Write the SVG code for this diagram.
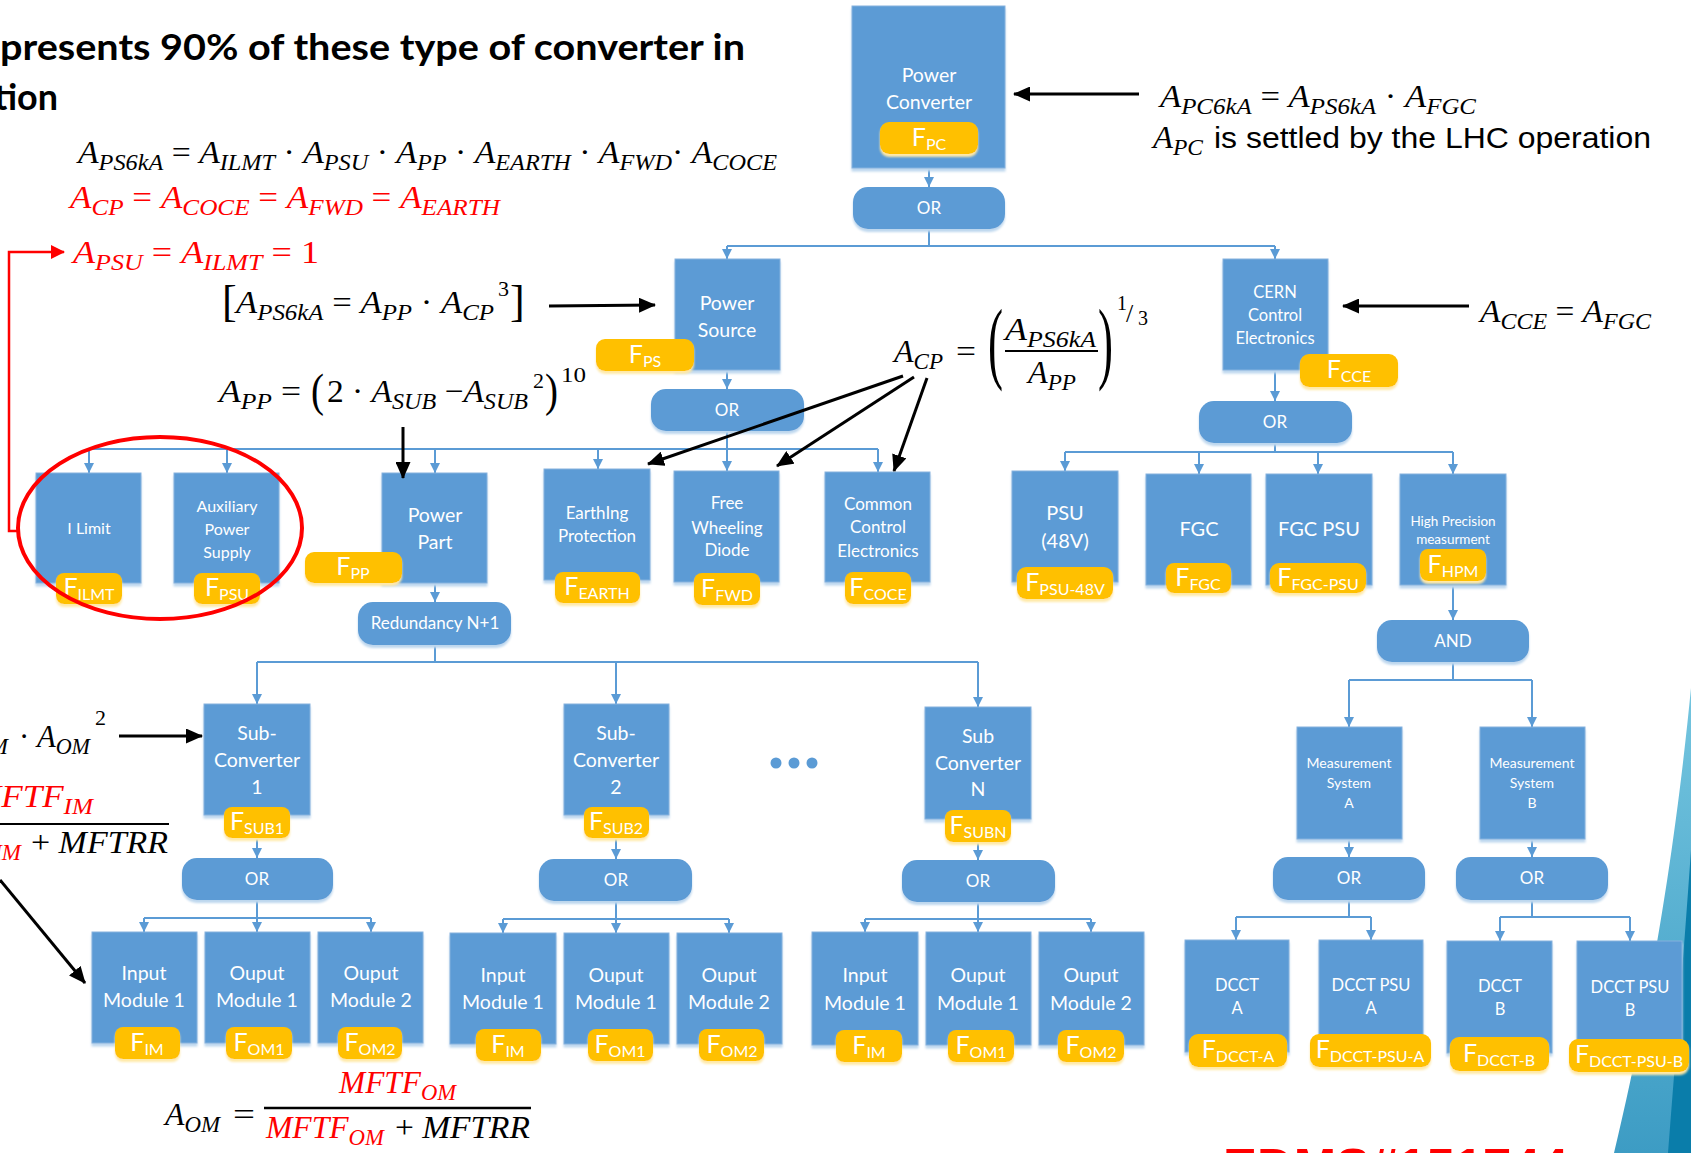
<svg xmlns="http://www.w3.org/2000/svg" width="1691" height="1153" viewBox="0 0 1691 1153">
<defs>
<style>
.box{fill:#5B9BD5;stroke:#86B2DE;stroke-width:1;filter:url(#sh)}
.gate{fill:#5B9BD5;filter:url(#sh)}
.pill{fill:#FFC000;filter:url(#shy)}
.lbl{font-family:Lato,"Liberation Sans",sans-serif;fill:#fff;text-anchor:middle}
.f{font-family:Lato,"Liberation Sans",sans-serif;fill:#fff;text-anchor:middle;font-size:25px}
.fs{font-size:16px}
.con{stroke:#5B9BD5;stroke-width:2;fill:none;marker-end:url(#ab)}
.ln{stroke:#5B9BD5;stroke-width:2;fill:none}
.blk{stroke:#000;stroke-width:3;fill:none;marker-end:url(#ak)}
.m{font-family:"Liberation Serif",serif;font-style:italic;font-size:32px}
.s{font-size:23px}
.u{font-style:normal}
.up{font-family:"Liberation Serif",serif;font-style:normal}
.red{fill:#FF0000}
</style>
<filter id="sh" x="-10%" y="-10%" width="120%" height="130%"><feDropShadow dx="0" dy="3" stdDeviation="1" flood-color="#BDD7EE" flood-opacity="1"/></filter>
<filter id="shy" x="-10%" y="-10%" width="120%" height="140%"><feDropShadow dx="0" dy="3" stdDeviation="1" flood-color="#FFE9A8" flood-opacity="1"/></filter>
<marker id="ab" markerUnits="userSpaceOnUse" markerWidth="10" markerHeight="10" viewBox="0 0 10 10" refX="10" refY="5" orient="auto"><path d="M0,0 L10,5 L0,10 z" fill="#5B9BD5"/></marker>
<marker id="ak" markerUnits="userSpaceOnUse" markerWidth="17" markerHeight="15" viewBox="0 0 17 15" refX="16" refY="7.5" orient="auto"><path d="M0,0 L17,7.5 L0,15 z" fill="#000"/></marker>
<marker id="ar" markerUnits="userSpaceOnUse" markerWidth="14" markerHeight="14" viewBox="0 0 14 14" refX="13" refY="7" orient="auto"><path d="M0,0 L14,7 L0,14 z" fill="#FF0000"/></marker>
<linearGradient id="dg" x1="0" y1="0" x2="0" y2="1"><stop offset="0" stop-color="#74C5DF"/><stop offset="1" stop-color="#3D9CC4"/></linearGradient>
</defs>

<g id="decor">
<path d="M1691,688 C1680,800 1660,960 1614,1153 L1691,1153 Z" fill="url(#dg)"/>
<path d="M1691,850 C1684,950 1676,1050 1668,1153 L1691,1153 Z" fill="#0A7DAA"/>
</g>

<g id="connectors">
<line class="con" x1="929" y1="168" x2="929" y2="187"/>
<line class="ln" x1="929" y1="229" x2="929" y2="246"/>
<line class="ln" x1="727" y1="246" x2="1275" y2="246"/>
<line class="con" x1="727" y1="246" x2="727" y2="259"/>
<line class="con" x1="1275" y1="246" x2="1275" y2="259"/>
<line class="con" x1="727" y1="370" x2="727" y2="389"/>
<line class="ln" x1="727" y1="431" x2="727" y2="449"/>
<line class="ln" x1="89" y1="449" x2="878" y2="449"/>
<line class="con" x1="89" y1="449" x2="89" y2="473"/>
<line class="con" x1="227" y1="449" x2="227" y2="473"/>
<line class="con" x1="435" y1="449" x2="435" y2="473"/>
<line class="con" x1="598" y1="449" x2="598" y2="469"/>
<line class="con" x1="727" y1="449" x2="727" y2="471"/>
<line class="con" x1="878" y1="449" x2="878" y2="472"/>
<line class="con" x1="435" y1="583" x2="435" y2="602"/>
<line class="ln" x1="435" y1="645" x2="435" y2="662"/>
<line class="ln" x1="257" y1="662" x2="978" y2="662"/>
<line class="con" x1="257" y1="662" x2="257" y2="704"/>
<line class="con" x1="616" y1="662" x2="616" y2="704"/>
<line class="con" x1="978" y1="662" x2="978" y2="707"/>
<line class="con" x1="257" y1="838" x2="257" y2="858"/>
<line class="con" x1="616" y1="838" x2="616" y2="859"/>
<line class="con" x1="978" y1="842" x2="978" y2="860"/>
<line class="ln" x1="257" y1="900" x2="257" y2="918"/>
<line class="ln" x1="144" y1="918" x2="371" y2="918"/>
<line class="con" x1="144" y1="918" x2="144" y2="932"/>
<line class="con" x1="257" y1="918" x2="257" y2="932"/>
<line class="con" x1="371" y1="918" x2="371" y2="932"/>
<line class="ln" x1="616" y1="901" x2="616" y2="919"/>
<line class="ln" x1="503" y1="919" x2="729" y2="919"/>
<line class="con" x1="503" y1="919" x2="503" y2="933"/>
<line class="con" x1="616" y1="919" x2="616" y2="933"/>
<line class="con" x1="729" y1="919" x2="729" y2="933"/>
<line class="ln" x1="978" y1="902" x2="978" y2="919"/>
<line class="ln" x1="865" y1="919" x2="1091" y2="919"/>
<line class="con" x1="865" y1="919" x2="865" y2="932"/>
<line class="con" x1="978" y1="919" x2="978" y2="932"/>
<line class="con" x1="1091" y1="919" x2="1091" y2="932"/>
<line class="con" x1="1275" y1="370" x2="1275" y2="401"/>
<line class="ln" x1="1275" y1="443" x2="1275" y2="452"/>
<line class="ln" x1="1065" y1="452" x2="1453" y2="452"/>
<line class="con" x1="1065" y1="452" x2="1065" y2="471"/>
<line class="con" x1="1199" y1="452" x2="1199" y2="474"/>
<line class="con" x1="1318" y1="452" x2="1318" y2="474"/>
<line class="con" x1="1453" y1="452" x2="1453" y2="474"/>
<line class="con" x1="1453" y1="585" x2="1453" y2="620"/>
<line class="ln" x1="1453" y1="662" x2="1453" y2="680"/>
<line class="ln" x1="1349" y1="680" x2="1532" y2="680"/>
<line class="con" x1="1349" y1="680" x2="1349" y2="727"/>
<line class="con" x1="1532" y1="680" x2="1532" y2="727"/>
<line class="con" x1="1349" y1="839" x2="1349" y2="857"/>
<line class="con" x1="1532" y1="839" x2="1532" y2="857"/>
<line class="ln" x1="1349" y1="900" x2="1349" y2="917"/>
<line class="ln" x1="1236" y1="917" x2="1371" y2="917"/>
<line class="con" x1="1236" y1="917" x2="1236" y2="940"/>
<line class="con" x1="1371" y1="917" x2="1371" y2="940"/>
<line class="ln" x1="1532" y1="900" x2="1532" y2="917"/>
<line class="ln" x1="1500" y1="917" x2="1630" y2="917"/>
<line class="con" x1="1500" y1="917" x2="1500" y2="941"/>
<line class="con" x1="1630" y1="917" x2="1630" y2="941"/>
</g>

<g id="n-power-converter">
<rect class="box" x="852" y="6" width="153" height="162"/>
<text class="lbl" font-size="19.5"><tspan x="929" y="82">Power</tspan><tspan x="929" y="109">Converter</tspan></text>
<rect class="pill" x="880" y="122" width="98" height="32" rx="9"/>
<text class="f" x="929" y="146">F<tspan class="fs" dy="4">PC</tspan></text>
</g>
<g id="n-or-pc"><rect class="gate" x="853" y="187" width="152" height="42" rx="15"/><text class="lbl" font-size="17" x="929" y="214">OR</text></g>

<g id="n-power-source">
<rect class="box" x="675" y="259" width="105" height="111"/>
<text class="lbl" font-size="19.5"><tspan x="727" y="310">Power</tspan><tspan x="727" y="337">Source</tspan></text>
<rect class="pill" x="596" y="339" width="98" height="32" rx="9"/>
<text class="f" x="645" y="363">F<tspan class="fs" dy="4">PS</tspan></text>
</g>
<g id="n-or-ps"><rect class="gate" x="651" y="389" width="153" height="42" rx="15"/><text class="lbl" font-size="17" x="727" y="416">OR</text></g>

<g id="n-cern">
<rect class="box" x="1223" y="259" width="105" height="111"/>
<text class="lbl" font-size="16.5"><tspan x="1275" y="298">CERN</tspan><tspan x="1275" y="321">Control</tspan><tspan x="1275" y="344">Electronics</tspan></text>
<rect class="pill" x="1300" y="354" width="98" height="33" rx="9"/>
<text class="f" x="1349" y="378">F<tspan class="fs" dy="4">CCE</tspan></text>
</g>
<g id="n-or-cern"><rect class="gate" x="1199" y="401" width="153" height="42" rx="15"/><text class="lbl" font-size="17" x="1275" y="428">OR</text></g>

<g id="n-ilimit">
<rect class="box" x="36" y="473" width="105" height="110"/>
<text class="lbl" font-size="16" x="89" y="534">I Limit</text>
<rect class="pill" x="56" y="573" width="66" height="31" rx="8"/>
<text class="f" x="89" y="596">F<tspan class="fs" dy="4">ILMT</tspan></text>
</g>
<g id="n-aux">
<rect class="box" x="174" y="473" width="105" height="110"/>
<text class="lbl" font-size="16"><tspan x="227" y="512">Auxiliary</tspan><tspan x="227" y="535">Power</tspan><tspan x="227" y="558">Supply</tspan></text>
<rect class="pill" x="194" y="573" width="66" height="31" rx="8"/>
<text class="f" x="227" y="596">F<tspan class="fs" dy="4">PSU</tspan></text>
</g>
<g id="n-power-part">
<rect class="box" x="382" y="473" width="105" height="110"/>
<text class="lbl" font-size="19.5"><tspan x="435" y="522">Power</tspan><tspan x="435" y="549">Part</tspan></text>
<rect class="pill" x="305" y="552" width="97" height="31" rx="9"/>
<text class="f" x="353" y="575">F<tspan class="fs" dy="4">PP</tspan></text>
</g>
<g id="n-earthing">
<rect class="box" x="544" y="469" width="106" height="111"/>
<text class="lbl" font-size="17"><tspan x="597" y="519">EarthIng</tspan><tspan x="597" y="542">Protection</tspan></text>
<rect class="pill" x="555" y="572" width="85" height="31" rx="8"/>
<text class="f" x="597" y="595">F<tspan class="fs" dy="4">EARTH</tspan></text>
</g>
<g id="n-fwd">
<rect class="box" x="674" y="471" width="105" height="111"/>
<text class="lbl" font-size="17"><tspan x="727" y="509">Free</tspan><tspan x="727" y="534">Wheeling</tspan><tspan x="727" y="556">Diode</tspan></text>
<rect class="pill" x="694" y="573" width="66" height="32" rx="8"/>
<text class="f" x="727" y="597">F<tspan class="fs" dy="4">FWD</tspan></text>
</g>
<g id="n-coce">
<rect class="box" x="825" y="472" width="105" height="110"/>
<text class="lbl" font-size="17"><tspan x="878" y="510">Common</tspan><tspan x="878" y="533">Control</tspan><tspan x="878" y="557">Electronics</tspan></text>
<rect class="pill" x="845" y="572" width="66" height="32" rx="8"/>
<text class="f" x="878" y="596">F<tspan class="fs" dy="4">COCE</tspan></text>
</g>
<g id="n-redundancy"><rect class="gate" x="358" y="602" width="153" height="43" rx="15"/><text class="lbl" font-size="17" x="435" y="629">Redundancy N+1</text></g>

<g id="n-sub1">
<rect class="box" x="204" y="704" width="106" height="111"/>
<text class="lbl" font-size="19.5"><tspan x="257" y="740">Sub-</tspan><tspan x="257" y="767">Converter</tspan><tspan x="257" y="794">1</tspan></text>
<rect class="pill" x="224" y="807" width="66" height="31" rx="8"/>
<text class="f" x="257" y="830">F<tspan class="fs" dy="4">SUB1</tspan></text>
</g>
<g id="n-sub2">
<rect class="box" x="564" y="704" width="105" height="111"/>
<text class="lbl" font-size="19.5"><tspan x="616" y="740">Sub-</tspan><tspan x="616" y="767">Converter</tspan><tspan x="616" y="794">2</tspan></text>
<rect class="pill" x="584" y="807" width="65" height="31" rx="8"/>
<text class="f" x="616" y="830">F<tspan class="fs" dy="4">SUB2</tspan></text>
</g>
<g id="n-subn">
<rect class="box" x="925" y="707" width="106" height="112"/>
<text class="lbl" font-size="19.5"><tspan x="978" y="743">Sub</tspan><tspan x="978" y="770">Converter</tspan><tspan x="978" y="796">N</tspan></text>
<rect class="pill" x="945" y="810" width="66" height="32" rx="8"/>
<text class="f" x="978" y="834">F<tspan class="fs" dy="4">SUBN</tspan></text>
</g>
<g id="n-dots" fill="#5B9BD5"><circle cx="776" cy="763" r="5.5"/><circle cx="794" cy="763" r="5.5"/><circle cx="812" cy="763" r="5.5"/></g>

<g id="n-or-sub1"><rect class="gate" x="182" y="858" width="151" height="42" rx="15"/><text class="lbl" font-size="17" x="257" y="885">OR</text></g>
<g id="n-or-sub2"><rect class="gate" x="539" y="859" width="153" height="42" rx="15"/><text class="lbl" font-size="17" x="616" y="886">OR</text></g>
<g id="n-or-subn"><rect class="gate" x="902" y="860" width="153" height="42" rx="15"/><text class="lbl" font-size="17" x="978" y="887">OR</text></g>

<g id="n-g1-im">
<rect class="box" x="92" y="932" width="105" height="111"/>
<text class="lbl" font-size="19.5"><tspan x="144" y="980">Input</tspan><tspan x="144" y="1007">Module 1</tspan></text>
<rect class="pill" x="115" y="1027" width="65" height="32" rx="8"/>
<text class="f" x="147" y="1051">F<tspan class="fs" dy="4">IM</tspan></text>
</g>
<g id="n-g1-om1">
<rect class="box" x="205" y="932" width="105" height="111"/>
<text class="lbl" font-size="19.5"><tspan x="257" y="980">Ouput</tspan><tspan x="257" y="1007">Module 1</tspan></text>
<rect class="pill" x="226" y="1027" width="66" height="32" rx="8"/>
<text class="f" x="259" y="1051">F<tspan class="fs" dy="4">OM1</tspan></text>
</g>
<g id="n-g1-om2">
<rect class="box" x="318" y="932" width="105" height="111"/>
<text class="lbl" font-size="19.5"><tspan x="371" y="980">Ouput</tspan><tspan x="371" y="1007">Module 2</tspan></text>
<rect class="pill" x="338" y="1027" width="64" height="32" rx="8"/>
<text class="f" x="370" y="1051">F<tspan class="fs" dy="4">OM2</tspan></text>
</g>
<g id="n-g2-im">
<rect class="box" x="450" y="933" width="106" height="111"/>
<text class="lbl" font-size="19.5"><tspan x="503" y="982">Input</tspan><tspan x="503" y="1009">Module 1</tspan></text>
<rect class="pill" x="476" y="1029" width="65" height="32" rx="8"/>
<text class="f" x="508" y="1053">F<tspan class="fs" dy="4">IM</tspan></text>
</g>
<g id="n-g2-om1">
<rect class="box" x="564" y="933" width="105" height="111"/>
<text class="lbl" font-size="19.5"><tspan x="616" y="982">Ouput</tspan><tspan x="616" y="1009">Module 1</tspan></text>
<rect class="pill" x="588" y="1029" width="65" height="32" rx="8"/>
<text class="f" x="620" y="1053">F<tspan class="fs" dy="4">OM1</tspan></text>
</g>
<g id="n-g2-om2">
<rect class="box" x="677" y="933" width="105" height="111"/>
<text class="lbl" font-size="19.5"><tspan x="729" y="982">Ouput</tspan><tspan x="729" y="1009">Module 2</tspan></text>
<rect class="pill" x="699" y="1029" width="65" height="32" rx="8"/>
<text class="f" x="732" y="1053">F<tspan class="fs" dy="4">OM2</tspan></text>
</g>
<g id="n-gn-im">
<rect class="box" x="812" y="932" width="106" height="113"/>
<text class="lbl" font-size="19.5"><tspan x="865" y="982">Input</tspan><tspan x="865" y="1010">Module 1</tspan></text>
<rect class="pill" x="836" y="1030" width="66" height="32" rx="8"/>
<text class="f" x="869" y="1054">F<tspan class="fs" dy="4">IM</tspan></text>
</g>
<g id="n-gn-om1">
<rect class="box" x="926" y="932" width="105" height="113"/>
<text class="lbl" font-size="19.5"><tspan x="978" y="982">Ouput</tspan><tspan x="978" y="1010">Module 1</tspan></text>
<rect class="pill" x="948" y="1030" width="66" height="32" rx="8"/>
<text class="f" x="981" y="1054">F<tspan class="fs" dy="4">OM1</tspan></text>
</g>
<g id="n-gn-om2">
<rect class="box" x="1039" y="932" width="105" height="113"/>
<text class="lbl" font-size="19.5"><tspan x="1091" y="982">Ouput</tspan><tspan x="1091" y="1010">Module 2</tspan></text>
<rect class="pill" x="1058" y="1030" width="66" height="32" rx="8"/>
<text class="f" x="1091" y="1054">F<tspan class="fs" dy="4">OM2</tspan></text>
</g>

<g id="n-psu48">
<rect class="box" x="1012" y="471" width="106" height="111"/>
<text class="lbl" font-size="20"><tspan x="1065" y="520">PSU</tspan><tspan x="1065" y="548">(48V)</tspan></text>
<rect class="pill" x="1017" y="567" width="96" height="32" rx="9"/>
<text class="f" x="1065" y="591">F<tspan class="fs" dy="4">PSU-48V</tspan></text>
</g>
<g id="n-fgc">
<rect class="box" x="1146" y="474" width="105" height="111"/>
<text class="lbl" font-size="20" x="1199" y="536">FGC</text>
<rect class="pill" x="1166" y="563" width="65" height="30" rx="8"/>
<text class="f" x="1198" y="586">F<tspan class="fs" dy="4">FGC</tspan></text>
</g>
<g id="n-fgcpsu">
<rect class="box" x="1266" y="474" width="106" height="111"/>
<text class="lbl" font-size="20" x="1319" y="536">FGC PSU</text>
<rect class="pill" x="1270" y="563" width="96" height="30" rx="9"/>
<text class="f" x="1318" y="586">F<tspan class="fs" dy="4">FGC-PSU</tspan></text>
</g>
<g id="n-hpm">
<rect class="box" x="1400" y="474" width="106" height="111"/>
<text class="lbl" font-size="13.5"><tspan x="1453" y="526">High Precision</tspan><tspan x="1453" y="544">measurment</tspan></text>
<rect class="pill" x="1420" y="549" width="66" height="32" rx="8"/>
<text class="f" x="1453" y="573">F<tspan class="fs" dy="4">HPM</tspan></text>
</g>
<g id="n-and"><rect class="gate" x="1377" y="620" width="152" height="42" rx="15"/><text class="lbl" font-size="17" x="1453" y="647">AND</text></g>

<g id="n-msa">
<rect class="box" x="1297" y="727" width="105" height="112"/>
<text class="lbl" font-size="14"><tspan x="1349" y="768">Measurement</tspan><tspan x="1349" y="788">System</tspan><tspan x="1349" y="808">A</tspan></text>
</g>
<g id="n-msb">
<rect class="box" x="1480" y="727" width="105" height="112"/>
<text class="lbl" font-size="14"><tspan x="1532" y="768">Measurement</tspan><tspan x="1532" y="788">System</tspan><tspan x="1532" y="808">B</tspan></text>
</g>
<g id="n-or-msa"><rect class="gate" x="1273" y="857" width="152" height="43" rx="15"/><text class="lbl" font-size="17" x="1349" y="884">OR</text></g>
<g id="n-or-msb"><rect class="gate" x="1456" y="857" width="152" height="43" rx="15"/><text class="lbl" font-size="17" x="1532" y="884">OR</text></g>

<g id="n-dccta">
<rect class="box" x="1185" y="940" width="104" height="112"/>
<text class="lbl" font-size="16.5"><tspan x="1237" y="991">DCCT</tspan><tspan x="1237" y="1014">A</tspan></text>
<rect class="pill" x="1189" y="1034" width="98" height="33" rx="9"/>
<text class="f" x="1238" y="1058">F<tspan class="fs" dy="4">DCCT-A</tspan></text>
</g>
<g id="n-dcctpsua">
<rect class="box" x="1319" y="940" width="104" height="112"/>
<text class="lbl" font-size="16.5"><tspan x="1371" y="991">DCCT PSU</tspan><tspan x="1371" y="1014">A</tspan></text>
<rect class="pill" x="1310" y="1034" width="121" height="33" rx="9"/>
<text class="f" x="1370" y="1058">F<tspan class="fs" dy="4">DCCT-PSU-A</tspan></text>
</g>
<g id="n-dcctb">
<rect class="box" x="1447" y="941" width="105" height="112"/>
<text class="lbl" font-size="16.5"><tspan x="1500" y="992">DCCT</tspan><tspan x="1500" y="1015">B</tspan></text>
<rect class="pill" x="1450" y="1037" width="99" height="34" rx="9"/>
<text class="f" x="1499" y="1062">F<tspan class="fs" dy="4">DCCT-B</tspan></text>
</g>
<g id="n-dcctpsub">
<rect class="box" x="1577" y="941" width="105" height="112"/>
<text class="lbl" font-size="16.5"><tspan x="1630" y="993">DCCT PSU</tspan><tspan x="1630" y="1016">B</tspan></text>
<rect class="pill" x="1569" y="1039" width="120" height="33" rx="9"/>
<text class="f" x="1629" y="1063">F<tspan class="fs" dy="4">DCCT-PSU-B</tspan></text>
</g>

<g id="annotations">
<text x="0" y="60" font-family="Lato, 'Liberation Sans', sans-serif" font-weight="700" font-size="36" textLength="745" lengthAdjust="spacingAndGlyphs">presents 90% of these type of converter in</text>
<text x="-6" y="110" font-family="Lato, 'Liberation Sans', sans-serif" font-weight="700" font-size="36" textLength="64" lengthAdjust="spacingAndGlyphs">tion</text>

<text class="m" x="78" y="163" textLength="699" lengthAdjust="spacingAndGlyphs">A<tspan class="s" dy="7">PS6kA</tspan><tspan class="u" dy="-7"> = </tspan>A<tspan class="s" dy="7">ILMT</tspan><tspan class="u" dy="-7"> · </tspan>A<tspan class="s" dy="7">PSU</tspan><tspan class="u" dy="-7"> · </tspan>A<tspan class="s" dy="7">PP</tspan><tspan class="u" dy="-7"> · </tspan>A<tspan class="s" dy="7">EARTH</tspan><tspan class="u" dy="-7"> · </tspan>A<tspan class="s" dy="7">FWD</tspan><tspan class="u" dy="-7">· </tspan>A<tspan class="s" dy="7">COCE</tspan></text>

<text class="m red" x="70" y="208" textLength="430" lengthAdjust="spacingAndGlyphs">A<tspan class="s" dy="7">CP</tspan><tspan class="u" dy="-7"> = </tspan>A<tspan class="s" dy="7">COCE</tspan><tspan class="u" dy="-7"> = </tspan>A<tspan class="s" dy="7">FWD</tspan><tspan class="u" dy="-7"> = </tspan>A<tspan class="s" dy="7">EARTH</tspan></text>

<text class="m red" x="73" y="263" textLength="246" lengthAdjust="spacingAndGlyphs">A<tspan class="s" dy="7">PSU</tspan><tspan class="u" dy="-7"> = </tspan>A<tspan class="s" dy="7">ILMT</tspan><tspan class="u" dy="-7"> = 1</tspan></text>
<polyline points="18,531 9,531 9,252 64,252" fill="none" stroke="#FF0000" stroke-width="2.5" marker-end="url(#ar)"/>
<ellipse cx="160" cy="528" rx="142" ry="91" fill="none" stroke="#FF0000" stroke-width="4"/>

<text class="up" x="222" y="316" font-size="44">[</text>
<text class="m" x="236" y="313" textLength="258" lengthAdjust="spacingAndGlyphs">A<tspan class="s" dy="7">PS6kA</tspan><tspan class="u" dy="-7"> = </tspan>A<tspan class="s" dy="7">PP</tspan><tspan class="u" dy="-7"> · </tspan>A<tspan class="s" dy="7">CP</tspan></text>
<text class="up" x="498" y="296" font-size="22">3</text>
<text class="up" x="510" y="316" font-size="44">]</text>
<line class="blk" x1="549" y1="306" x2="655" y2="305"/>

<text class="m" x="219" y="402" textLength="82" lengthAdjust="spacingAndGlyphs">A<tspan class="s" dy="7">PP</tspan><tspan class="u" dy="-7"> =</tspan></text>
<text class="up" x="311" y="406" font-size="46" textLength="13" lengthAdjust="spacingAndGlyphs">(</text>
<text class="m" x="327" y="402" textLength="201" lengthAdjust="spacingAndGlyphs"><tspan class="u">2 · </tspan>A<tspan class="s" dy="7">SUB</tspan><tspan class="u" dy="-7"> −</tspan>A<tspan class="s" dy="7">SUB</tspan></text>
<text class="up" x="533" y="388" font-size="22">2</text>
<text class="up" x="545" y="406" font-size="46" textLength="13" lengthAdjust="spacingAndGlyphs">)</text>
<text class="up" x="561" y="382" font-size="22" textLength="25" lengthAdjust="spacingAndGlyphs">10</text>
<line class="blk" x1="403" y1="427" x2="403" y2="478"/>

<text class="m" x="894" y="362" textLength="49" lengthAdjust="spacingAndGlyphs">A<tspan class="s" dy="7">CP</tspan></text>
<text class="up" x="956" y="362" font-size="32" textLength="20" lengthAdjust="spacingAndGlyphs">=</text>
<text class="up" x="988" y="372" font-size="90" textLength="15" lengthAdjust="spacingAndGlyphs">(</text>
<text class="m" x="1005" y="340" textLength="91" lengthAdjust="spacingAndGlyphs">A<tspan class="s" dy="7">PS6kA</tspan></text>
<line x1="1005" y1="351" x2="1098" y2="351" stroke="#000" stroke-width="2"/>
<text class="m" x="1028" y="383" textLength="48" lengthAdjust="spacingAndGlyphs">A<tspan class="s" dy="7">PP</tspan></text>
<text class="up" x="1098" y="372" font-size="90" textLength="15" lengthAdjust="spacingAndGlyphs">)</text>
<text class="up" x="1117" y="310" font-size="20">1</text>
<text class="up" x="1126" y="322" font-size="26">/</text>
<text class="up" x="1138" y="325" font-size="20">3</text>
<line class="blk" x1="903" y1="376" x2="648" y2="464"/>
<line class="blk" x1="914" y1="377" x2="777" y2="466"/>
<line class="blk" x1="927" y1="378" x2="894" y2="471"/>

<line class="blk" x1="1139" y1="94" x2="1014" y2="94"/>
<text class="m" x="1160" y="107" textLength="316" lengthAdjust="spacingAndGlyphs">A<tspan class="s" dy="7">PC6kA</tspan><tspan class="u" dy="-7"> = </tspan>A<tspan class="s" dy="7">PS6kA</tspan><tspan class="u" dy="-7"> · </tspan>A<tspan class="s" dy="7">FGC</tspan></text>
<text class="m" x="1153" y="148" textLength="50" lengthAdjust="spacingAndGlyphs">A<tspan class="s" dy="7">PC</tspan></text>
<text x="1214" y="148" font-family="'Liberation Sans', Arial, sans-serif" font-size="30" textLength="437" lengthAdjust="spacingAndGlyphs">is settled by the LHC operation</text>

<line class="blk" x1="1469" y1="306" x2="1343" y2="306"/>
<text class="m" x="1480" y="322" textLength="171" lengthAdjust="spacingAndGlyphs">A<tspan class="s" dy="7">CCE</tspan><tspan class="u" dy="-7"> = </tspan>A<tspan class="s" dy="7">FGC</tspan></text>

<text class="m s" x="8" y="754" text-anchor="end">IM</text>
<text class="m" x="19" y="747" textLength="71" lengthAdjust="spacingAndGlyphs"><tspan class="u">· </tspan>A<tspan class="s" dy="7">OM</tspan></text>
<text class="up" x="95" y="725" font-size="22">2</text>
<line class="blk" x1="119" y1="736" x2="202" y2="736"/>

<text class="m red" x="-28" y="807" textLength="121" lengthAdjust="spacingAndGlyphs">MFTF<tspan class="s" dy="7">IM</tspan></text>
<line x1="0" y1="824" x2="169" y2="824" stroke="#000" stroke-width="2"/>
<text class="m s red" x="21" y="860" text-anchor="end">IM</text>
<text class="m" x="31" y="853" textLength="137" lengthAdjust="spacingAndGlyphs"><tspan class="u">+ </tspan>MFTRR</text>
<line class="blk" x1="0" y1="880" x2="85" y2="983"/>

<text class="m" x="165" y="1125" textLength="55" lengthAdjust="spacingAndGlyphs">A<tspan class="s" dy="7">OM</tspan></text>
<text class="up" x="233" y="1125" font-size="32" textLength="22" lengthAdjust="spacingAndGlyphs">=</text>
<text class="m red" x="339" y="1093" textLength="117" lengthAdjust="spacingAndGlyphs">MFTF<tspan class="s" dy="7">OM</tspan></text>
<line x1="264" y1="1108" x2="531" y2="1108" stroke="#000" stroke-width="2.5"/>
<text class="m red" x="266" y="1138" textLength="118" lengthAdjust="spacingAndGlyphs">MFTF<tspan class="s" dy="7">OM</tspan></text>
<text class="m" x="395" y="1138" textLength="135" lengthAdjust="spacingAndGlyphs"><tspan class="u">+ </tspan>MFTRR</text>

<text x="1223" y="1184" font-family="'Liberation Sans', Arial, sans-serif" font-weight="700" font-size="50" fill="#FF0000" textLength="345" lengthAdjust="spacingAndGlyphs">EDMS#151744</text>
</g>
</svg>
